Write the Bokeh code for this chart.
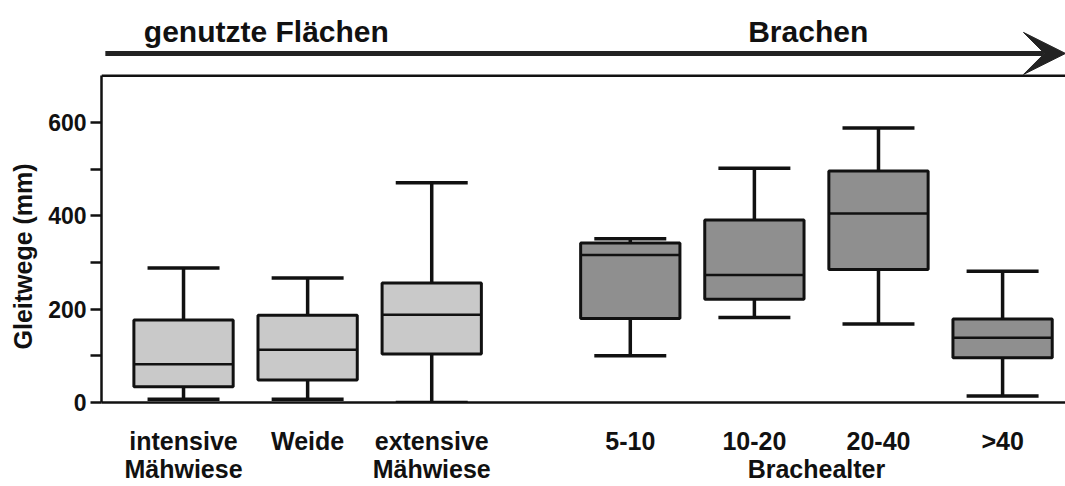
import math
from bokeh.plotting import figure
from bokeh.models import (Range1d, FixedTicker, Label, Arrow, VeeHead, Span, Title)
from bokeh.embed import file_html
from bokeh.resources import INLINE

# ---- data ----
categories = ["intensive\nMähwiese", "Weide", "extensive\nMähwiese",
              "5-10", "10-20", "20-40", ">40"]
groups = ["genutzt", "genutzt", "genutzt", "Brache", "Brache", "Brache", "Brache"]
lower = [7, 7, 0, 100, 182, 168, 14]
q1 = [34, 48, 104, 180, 221, 285, 96]
median = [82, 113, 188, 316, 273, 405, 139]
q3 = [177, 187, 256, 342, 391, 496, 179]
upper = [288, 267, 471, 351, 502, 588, 281]
y_ticks = [0, 100, 200, 300, 400, 500, 600]
y_labels = ["0", "", "200", "", "400", "", "600"]
header_left = "genutzte Flächen"
header_right = "Brachen"
y_title = "Gleitwege (mm)"
x_title = "Brachealter"

# ---- layout helpers ----
GAP = 0.6
xs = [round(i + (GAP if g == "Brache" else 0.0), 3) for i, g in enumerate(groups)]
colors = {"genutzt": "#c9c9c9", "Brache": "#8f8f8f"}
fills = [colors[g] for g in groups]
BW = 0.8
CAP = 0.29

FONT = "Liberation Sans"
W, H = 1065, 486
LEFT, BOTTOM = 101, 84
x_start = -0.661
x_end = x_start + (W - LEFT) / 124.1
y_end = (H - BOTTOM) / 0.46667

p = figure(width=W, height=H, output_backend="svg", toolbar_location=None,
           x_range=Range1d(x_start, x_end), y_range=Range1d(0, y_end),
           min_border_left=LEFT, min_border_right=0, min_border_top=0,
           min_border_bottom=BOTTOM)
p.outline_line_color = None
p.xgrid.visible = False
p.ygrid.visible = False
p.background_fill_color = "white"

# boxes
p.vbar(x=xs, bottom=q1, top=q3, width=BW, fill_color=fills,
       line_color="#111111", line_width=3)
# medians
p.segment(x0=[x - BW / 2 for x in xs], x1=[x + BW / 2 for x in xs],
          y0=median, y1=median, line_color="#111111", line_width=2.5)
# whiskers
p.segment(x0=xs, x1=xs, y0=q3, y1=upper, line_color="#111111", line_width=3.5)
p.segment(x0=xs, x1=xs, y0=q1, y1=lower, line_color="#111111", line_width=3.5)
# caps
p.segment(x0=[x - CAP for x in xs], x1=[x + CAP for x in xs],
          y0=upper, y1=upper, line_color="#111111", line_width=3.5)
p.segment(x0=[x - CAP for x in xs], x1=[x + CAP for x in xs],
          y0=lower, y1=lower, line_color="#111111", line_width=3.5)

# y axis
ya = p.yaxis[0]
ya.ticker = FixedTicker(ticks=y_ticks)
ya.major_label_overrides = {t: l for t, l in zip(y_ticks, y_labels)}
ya.bounds = (0, 700)
ya.minor_tick_line_color = None
ya.major_tick_in = 0
ya.major_tick_out = 11
ya.major_tick_line_width = 2.5
ya.major_tick_line_color = "#111111"
ya.axis_line_width = 2.5
ya.axis_line_color = "#111111"
ya.major_label_standoff = 4
ya.major_label_text_font = FONT
ya.major_label_text_font_style = "bold"
ya.major_label_text_font_size = "23px"
ya.major_label_text_color = "#111111"

# y title as a left-side title, shifted down along the axis
p.add_layout(Title(text=y_title, align="left", offset=53, standoff=14,
                   vertical_align="top", text_font=FONT,
                   text_font_style="bold", text_font_size="25px",
                   text_color="#111111"), "left")

# x axis: category ticks plus the group title "Brachealter" as a second line
title_x = round(sum(xs[3:]) / 4, 3)
xa = p.xaxis[0]
xa.ticker = FixedTicker(ticks=xs + [title_x])
overrides = {x: c for x, c in zip(xs, categories)}
overrides[title_x] = "\n" + x_title
xa.major_label_overrides = overrides
xa.major_tick_line_color = None
xa.minor_tick_line_color = None
xa.major_tick_in = 0
xa.major_tick_out = 0
xa.axis_line_width = 2.5
xa.axis_line_color = "#111111"
xa.major_label_standoff = 24
xa.major_label_text_font = FONT
xa.major_label_text_font_style = "bold"
xa.major_label_text_font_size = "25px"
xa.major_label_text_line_height = 1.0
xa.major_label_text_color = "#111111"

# top frame line
p.add_layout(Span(location=700, dimension="width", line_color="#111111",
                  line_width=2.5))

# arrow and headers
p.add_layout(Arrow(end=VeeHead(size=42, fill_color="#222222", line_color="#222222"),
                   x_start=-0.63, y_start=748, x_end=x_end, y_end=748,
                   line_color="#222222", line_width=5))
for txt, xx in [(header_left, -0.32), (header_right, 4.55)]:
    p.add_layout(Label(x=xx, y=796, text=txt, text_font=FONT,
                       text_font_style="bold", text_font_size="30px",
                       text_color="#111111", text_align="left",
                       text_baseline="alphabetic"))

open("out.html", "w").write(file_html(p, INLINE))
